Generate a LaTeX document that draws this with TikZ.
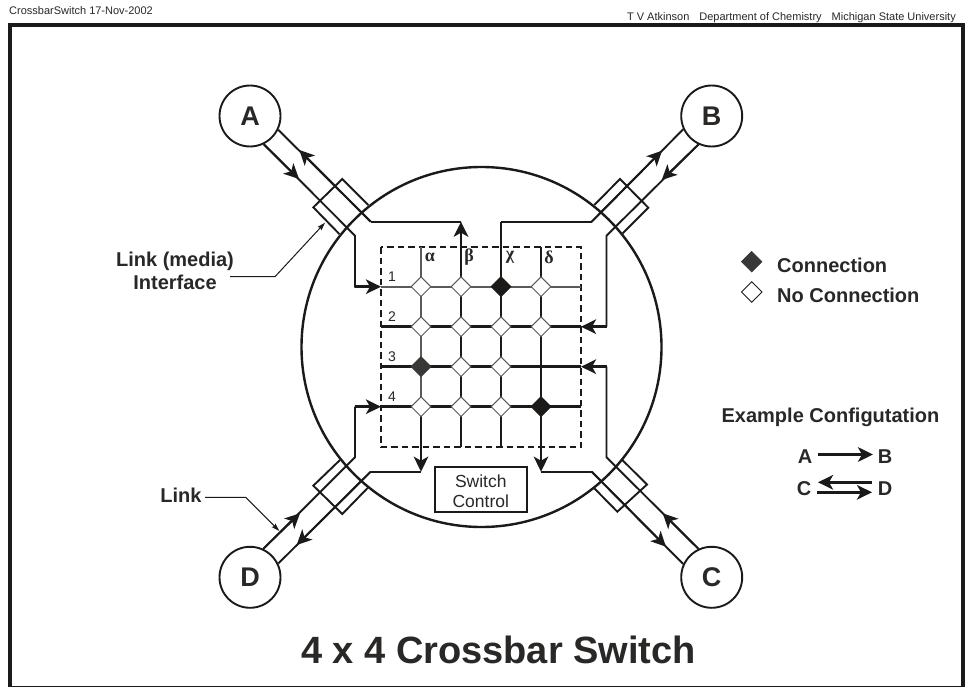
\documentclass[tikz,border=0pt]{standalone}
\usepackage{fontspec}
\setmainfont{Liberation Sans}
\newfontfamily\grkfont{Liberation Serif}
\usetikzlibrary{arrows.meta,shapes.geometric}
\definecolor{ink}{HTML}{1C1A18}
\definecolor{soft}{HTML}{5A5A58}
\definecolor{txt}{HTML}{2A2826}
\definecolor{darkfill}{HTML}{3A3836}
\tikzset{
  station/.style={circle,draw=ink,line width=1.9pt,minimum size=61pt,inner sep=0pt,font=\fontsize{27}{27}\selectfont\bfseries,text=txt,fill=white},
  linkline/.style={draw=ink,line width=1.9pt,line join=miter},
  fatline/.style={draw=ink,line width=2.8pt},
  softline/.style={draw=soft,line width=1.6pt},
  tip/.style={-{Stealth[length=15pt,width=14.5pt,inset=4pt]}},
  cross/.style={diamond,aspect=1,draw=soft,line width=1pt,fill=white,minimum size=20pt,inner sep=0pt},
  crosson/.style={cross,draw=ink,fill=ink},
  legendlabel/.style={font=\fontsize{20}{23}\selectfont\bfseries,text=txt,anchor=base west,inner sep=0pt},
  boldlabel/.style={font=\fontsize{20}{23}\selectfont\bfseries,text=txt,inner sep=0pt,align=center},
  rowlabel/.style={font=\fontsize{14}{14}\selectfont,text=txt,inner sep=0pt},
  collabel/.style={font=\fontsize{18}{18}\selectfont\grkfont\bfseries,text=txt,inner sep=0pt},
  leader/.style={draw=ink,line width=1pt,-{Stealth[length=8pt,width=5pt,inset=1pt]}},
}
\begin{document}
\begin{tikzpicture}[x=1pt,y=-1pt]
\useasboundingbox (0,0) rectangle (966,687);
\fill[white] (0,0) rectangle (966,687);
% frame and headers
\node[draw=ink,line width=4pt,minimum width=953pt,minimum height=662.2pt,inner sep=0pt] (frame) at (486,356.6) {};
\node[anchor=west,inner sep=0pt,font=\fontsize{11}{12}\selectfont,text=txt] (hleft) at (9,11) {CrossbarSwitch 17-Nov-2002};
\node[anchor=east,inner sep=0pt,font=\fontsize{11}{12}\selectfont,text=txt] (hright) at (956,17.5) {T V Atkinson\hspace{10pt}Department of Chemistry\hspace{10pt}Michigan State University};
% big circle
\node[circle,draw=ink,line width=2.4pt,minimum size=360pt,inner sep=0pt] (hub) at (481.5,347) {};
% stations
\node[station] (A) at (250,116) {A};
\node[station] (B) at (711.7,116) {B};
\node[station] (C) at (711.7,577.3) {C};
\node[station] (D) at (250,577.3) {D};
% interfaces
\draw[linkline] (368.3,205) -- (342.3,179) -- (313.3,207.3) -- (339.3,234);
\draw[linkline] (594.3,205) -- (620,179) -- (648.3,207.7) -- (622.7,233.3);
\draw[linkline] (340,460) -- (313.3,485.7) -- (342.3,514) -- (368.3,487.3);
\draw[linkline] (622.3,460) -- (647,484.5) -- (617.3,511.7) -- (594.3,488.3);
% coordinates
\coordinate (a1) at (355,235.7); \coordinate (a2) at (355,286.7);
\coordinate (a3) at (370.7,221.7);
\coordinate (b1) at (591.7,221.7); \coordinate (b2) at (606.5,235.7); \coordinate (b3) at (606.5,326.7);
\coordinate (c1) at (606.5,457.3); \coordinate (c2) at (606.5,366.7); \coordinate (c3) at (591.7,471.7);
\coordinate (d1) at (355,457.3); \coordinate (d2) at (355,406.7); \coordinate (d3) at (370.7,471.7);
\coordinate (mA1) at (299.3,150); \coordinate (mA2) at (299,179);
\coordinate (mB1) at (662,150.7); \coordinate (mB2) at (661.7,180);
\coordinate (mC1) at (662.7,513.3); \coordinate (mC2) at (666,546.7);
\coordinate (mD1) at (300,513.3); \coordinate (mD2) at (296.7,545);
\coordinate (x1n) at (421,247); \coordinate (x2n) at (461,221.7); \coordinate (x3n) at (501,221.7); \coordinate (x4n) at (541,247);
\coordinate (x1s) at (421,471.7); \coordinate (x2s) at (461,447); \coordinate (x3s) at (501,447); \coordinate (x4s) at (541,471.7);
\coordinate (y1w) at (381,286.7); \coordinate (y2w) at (381,326.7); \coordinate (y3w) at (381,366.7); \coordinate (y4w) at (381,406.7);
\coordinate (y1e) at (581,286.7); \coordinate (y2e) at (581,326.7); \coordinate (y3e) at (581,366.7); \coordinate (y4e) at (581,406.7);
\coordinate (x1m) at (421,406.7); \coordinate (x3m) at (501,286.7);
% links
\draw[linkline] (a3) -- (A.-26);
\draw[linkline,tip] (a3) -- (mA1);
\draw[linkline] (A.-64) -- (a1) -- (a2) -- ++(6,0);
\draw[linkline,tip] (A.-64) -- (mA2);
\draw[linkline] (a3) -- (x2n);
\draw[linkline] (b1) -- (B.205);
\draw[linkline,tip] (b1) -- (mB1);
\draw[linkline] (B.245) -- (b2) -- (b3);
\draw[linkline,tip] (B.245) -- (mB2);
\draw[linkline] (x3n) -- (b1);
\draw[linkline] (C.115) -- (c1) -- (c2);
\draw[linkline,tip] (C.115) -- (mC1);
\draw[linkline] (c3) -- (C.155);
\draw[linkline,tip] (c3) -- (mC2);
\draw[linkline] (D.65) -- (d1) -- (d2);
\draw[linkline,tip] (D.65) -- (mD1);
\draw[linkline] (d3) -- (D.26);
\draw[linkline,tip] (d3) -- (mD2);
\draw[linkline] (d3) -- (x1s);
\draw[linkline] (c3) -- (x4s);
% entry arrows
\draw[fatline,tip] (a2) -- (y1w);
\draw[fatline,tip] (d2) -- (y4w);
\draw[fatline,tip] (b3) -- (y2e);
\draw[fatline,tip] (c2) -- (y3e);
% grid
\draw[draw=ink,line width=1.5pt,dash pattern=on 6.5pt off 4pt] (381,247) rectangle (581,447);
\draw[softline] (y1w) -- (y1e);
\draw[fatline] (y2w) -- (y2e);
\draw[fatline] (y3w) -- (y3e);
\draw[fatline] (y4w) -- (y4e);
\draw[softline] (x1n) -- (x1m);
\draw[fatline,tip] (x1m) -- (x1s);
\draw[fatline,tip] (x2s) -- (x2n);
\draw[linkline] (x3n) -- (x3m);
\draw[fatline] (x3m) -- (x3s);
\draw[fatline,tip] (x4n) -- (x4s);
% crosspoints
\foreach \nm/\px/\py/\sty in {
  c11/421/286.7/cross,c12/461/286.7/cross,c13/501/286.7/crosson,c14/541/286.7/cross,
  c21/421/326.7/cross,c22/461/326.7/cross,c23/501/326.7/cross,c24/541/326.7/cross,
  c32/461/366.7/cross,c33/501/366.7/cross,
  c41/421/406.7/cross,c42/461/406.7/cross,c43/501/406.7/cross,c44/541/406.7/crosson}
  \node[\sty] (\nm) at (\px,\py) {};
\node[cross,draw=darkfill,fill=darkfill] (c31) at (421,366.7) {};
% grid labels
\node[rowlabel] (r1) at (392,277) {1};
\node[rowlabel] (r2) at (392,316.5) {2};
\node[rowlabel] (r3) at (392,356.5) {3};
\node[rowlabel] (r4) at (392,397) {4};
\node[collabel] (ga) at (430,257) {α};
\node[collabel] (gb) at (469,257) {β};
\node[collabel] (gc) at (510,257) {χ};
\node[collabel] (gd) at (549,257) {δ};
% switch control
\node[draw=ink,line width=2pt,minimum width=91.7pt,minimum height=45.6pt,inner sep=0pt,fill=white] (sw) at (480.8,489.5) {};
\node[align=center,inner sep=0pt,font=\fontsize{17.5}{20}\selectfont,text=txt] (swt) at (480.8,491) {Switch\\Control};
% legend
\node[diamond,aspect=1,fill=darkfill,draw=darkfill,minimum size=21pt,inner sep=0pt] (lg1) at (751.7,261.7) {};
\node[diamond,aspect=1,fill=white,draw=ink,line width=0.9pt,minimum size=21pt,inner sep=0pt] (lg2) at (751.7,292) {};
\node[legendlabel] (lt1) at (777,272.5) {Connection};
\node[legendlabel] (lt2) at (777,302.5) {No Connection};
\node[boldlabel,anchor=base] (ex) at (830.5,422.5) {Example Configutation};
\node[boldlabel,anchor=base] (eA) at (805,463) {A};
\node[boldlabel,anchor=base] (eB) at (885,463) {B};
\node[boldlabel,anchor=base] (eC) at (804,495) {C};
\node[boldlabel,anchor=base] (eD) at (885,495) {D};
\coordinate (e1) at (818,454.5); \coordinate (e2) at (873,454.5);
\coordinate (e3) at (872,482.3); \coordinate (e4) at (818,482.3);
\coordinate (e5) at (817,492.3); \coordinate (e6) at (872,492.3);
\draw[fatline,tip] (e1) -- (e2);
\draw[fatline,tip] (e3) -- (e4);
\draw[fatline,tip] (e5) -- (e6);
% side labels
\node[boldlabel] (lm) at (175,270.5) {Link (media)\\Interface};
\node[boldlabel,anchor=base] (ll) at (181,502.5) {Link};
\coordinate (lms) at (230,276.7); \coordinate (lma) at (275,276.7); \coordinate (lmt) at (325,222.7);
\coordinate (lls) at (205,497.3); \coordinate (lla) at (245.7,497.3); \coordinate (llt) at (279.3,531);
\draw[leader] (lms) -- (lma) -- (lmt);
\draw[leader] (lls) -- (lla) -- (llt);
% title
\node[inner sep=0pt,font=\fontsize{38}{38}\selectfont\bfseries,text=txt] (title) at (498.5,650) {4 x 4 Crossbar Switch};
\end{tikzpicture}
\end{document}
